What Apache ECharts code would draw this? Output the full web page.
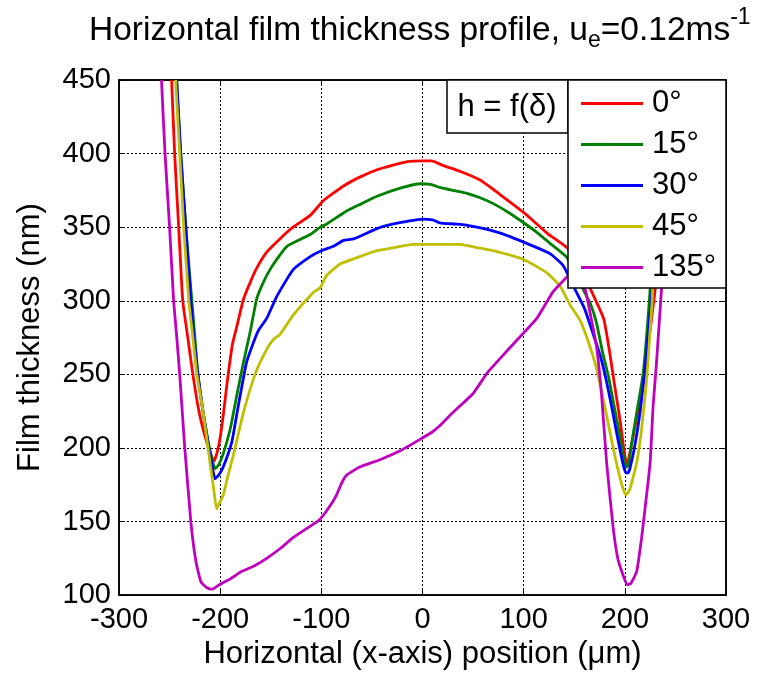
<!DOCTYPE html>
<html>
<head>
<meta charset="utf-8">
<script src="https://cdn.jsdelivr.net/npm/echarts@6/dist/echarts.min.js"></script>
<style>
  html, body { margin: 0; padding: 0; background: #fff; }
  #main { width: 772px; height: 675px; }
</style>
</head>
<body>
<div id="main"></div>
<script>
// film thickness (nm) vs horizontal position (um)
var deg0 = [[-248,450],[-245,400],[-241,350],[-237,300],[-232,275],[-227,250],[-221,225],[-215,208],[-210,197],[-206,191],
  [-203,197],[-200,207],[-197,222],[-193,245],[-188,270],[-183,284],[-177,301],[-170,313],[-164,322],[-154,333],[-141,342],
  [-128,350],[-111,358],[-98,368],[-78,378],[-62,384],[-45,389],[-30,392],[-15,394.5],[0,395],[9,395],[20,392],[37,388],
  [57,382],[77,372],[100,360],[123,346],[143,336],[155,325],[166,308],[179,288],[185,265],[190,242],[195,220],[198.5,202],
  [202,188],[206,200],[213,225],[220,250],[225,280],[230,308],[235,360],[240,420],[243,450]];
var deg15 = [[-243,450],[-239,400],[-234,350],[-228,300],[-225,275],[-222,250],[-217,225],[-212,205],[-208,192],[-205,186],
  [-202,188],[-197,196],[-190,213],[-183.5,236],[-177,258],[-170,280],[-164,301],[-157,313],[-150,322],[-141,331],[-134,337],
  [-120,342],[-111,345],[-101,350],[-95,352],[-75,361],[-60,366],[-45,371],[-22,376.5],[-2,379.5],[8,379],[17,377],[30,375],
  [44,373],[57,370],[70,366],[85,360],[100,353],[114,346],[126,339],[142,330],[152,318],[160,306],[166,298],[172,285],
  [178,265],[184,248],[189,230],[194,212],[197,200],[200,190],[202,187],[204,189],[206,200],[212,225],[218,250],[222,280],
  [225,308],[229,360],[233,410],[236,450]];
var deg30 = [[-243,450],[-239,400],[-234,350],[-229,300],[-226,275],[-222,250],[-217,225],[-212,203],[-208,188],[-205,179],
  [-201,182],[-197,187],[-188.5,204],[-182,229],[-174,258],[-168,270],[-162,280],[-154,288],[-144,303],[-128,321],[-111,330],
  [-100,334],[-88,337],[-78,341],[-68,342],[-45,349],[-30,352],[-15,354],[0,355.5],[10,355],[17,353],[35,352],[50,350.5],
  [77,346],[103,339],[126,332],[139,324],[152,306],[160,295],[166,283],[175.5,263],[181,248],[187,228],[192,210],[196,196],
  [199,187],[201,183],[203,183],[205,186],[210,202],[215,224],[220,254],[225,292],[228,315],[232,370],[236,420],[238,450]];
var deg45 = [[-244,450],[-240,400],[-236,350],[-231,300],[-227,275],[-223,250],[-217,225],[-212,200],[-209,185],[-206,170],
  [-203.5,158.5],[-201,162],[-197,168],[-192,182],[-187,195],[-177,224],[-165,251],[-154,267],[-147,274],[-141,277],
  [-128,290],[-108,305.6],[-101,309],[-95,317],[-81.5,325],[-62,330],[-45,334],[-29,336],[-9,338.3],[37,338.3],[55,336],
  [70,334],[100,328],[123,319],[136,310],[146,297],[155.5,287],[163,274],[172,254],[182,222],[190,195],[197,175],[201,168],
  [205,172],[211.7,190],[216.6,213],[221.6,247],[225,280],[227,300],[230,350],[234,400],[237,450]];
var deg135 = [[-258,450],[-254.5,400],[-250,350],[-246,300],[-243,276],[-240,250],[-235,200],[-229,150],[-224,123],
  [-219,109],[-213,105],[-208,104],[-201,107],[-190,111],[-179,116],[-166,120],[-154,125],[-140,132],[-128,139],[-115,145],
  [-102,151],[-92,160],[-85,168],[-80,176],[-75,181.5],[-62,187],[-42,192],[-22,198],[-2,206],[10,211],[17,215],[30,224],
  [50,237],[64,251],[77,261],[93,273],[113,288],[129,306],[144,317],[152,322],[160,310],[165.6,292],[172,269],[177,236],
  [182,190],[188.6,145],[193,125],[197,116],[202.4,107],[206,108],[211.7,116],[216.6,139],[221,165],[225,190],[228,229],
  [231,255],[234,285],[238,326],[242,380],[246,450]];

var seriesNames = ['0°', '15°', '30°', '45°', '135°'];
var seriesData = [deg0, deg15, deg30, deg45, deg135];
var seriesColors = ['#ff0000', '#008000', '#0000ff', '#bfbf00', '#bf00bf'];

var xTicks = [-300, 300, 100];   // min, max, step
var yTicks = [100, 450, 50];

var FONT = 'Liberation Sans, Arial, sans-serif';
var myChart = echarts.init(document.getElementById('main'));

var series = [];
for (var i = 0; i < seriesData.length; i++) {
  series.push({
    name: seriesNames[i],
    type: 'line',
    data: seriesData[i],
    showSymbol: false,
    symbol: 'none',
    smooth: 0.15,
    lineStyle: { color: seriesColors[i], width: 2.8 },
    itemStyle: { color: seriesColors[i] },
    z: 2
  });
}

var gridLine = { show: true, lineStyle: { color: '#000', type: [2, 2], width: 1 } };
var frameLine = { show: true, onZero: false, lineStyle: { color: '#000', width: 1.5 } };
var inTick = { show: true, inside: true, length: 6, lineStyle: { color: '#000' } };

var option = {
  backgroundColor: '#fff',
  animation: false,
  title: {
    text: '{a|Horizontal film thickness profile, u}{sub|e}{a|=0.12ms}{sup|-1}',
    left: 84,
    top: 6,
    textStyle: {
      rich: {
        a: { fontFamily: FONT, fontSize: 33.5, fontWeight: 'normal', color: '#000', lineHeight: 40 },
        sub: { fontFamily: FONT, fontSize: 23, fontWeight: 'normal', color: '#000', lineHeight: 40, padding: [20, 0, 0, 0] },
        sup: { fontFamily: FONT, fontSize: 23, fontWeight: 'normal', color: '#000', lineHeight: 40, padding: [0, 0, 26, 0] }
      }
    }
  },
  grid: { left: 119, right: 46, top: 80, bottom: 78, show: true, borderColor: '#000', borderWidth: 1.5 },
  legend: {
    data: seriesNames,
    orient: 'vertical',
    left: 581,
    top: 88,
    padding: 0,
    icon: 'path://M0,0H62V3H0Z',
    itemWidth: 62,
    itemHeight: 30,
    itemGap: 10,
    z: 10,
    textStyle: { fontFamily: FONT, fontSize: 31, color: '#000', lineHeight: 30, padding: [0, 0, 0, 4] }
  },
  xAxis: [{
    type: 'value', min: xTicks[0], max: xTicks[1], interval: xTicks[2],
    name: 'Horizontal (x-axis) position (μm)', nameLocation: 'middle', nameGap: 43,
    nameTextStyle: { fontFamily: FONT, fontSize: 31, color: '#000' },
    axisLine: frameLine, axisTick: inTick,
    axisLabel: { fontFamily: FONT, fontSize: 29, color: '#000', margin: 10 },
    splitLine: gridLine
  }, {
    type: 'value', position: 'top', min: xTicks[0], max: xTicks[1], interval: xTicks[2],
    axisLine: frameLine, axisTick: inTick,
    axisLabel: { show: false }, splitLine: { show: false }
  }],
  yAxis: [{
    type: 'value', min: yTicks[0], max: yTicks[1], interval: yTicks[2],
    name: 'Film thickness (nm)', nameLocation: 'middle', nameGap: 73,
    nameTextStyle: { fontFamily: FONT, fontSize: 31, color: '#000' },
    axisLine: frameLine, axisTick: inTick,
    axisLabel: { fontFamily: FONT, fontSize: 29, color: '#000', margin: 8 },
    splitLine: gridLine
  }, {
    type: 'value', position: 'right', min: yTicks[0], max: yTicks[1], interval: yTicks[2],
    axisLine: frameLine, axisTick: inTick,
    axisLabel: { show: false }, splitLine: { show: false }
  }],
  graphic: [
    { type: 'rect', z: 5, shape: { x: 447, y: 80, width: 121, height: 53 },
      style: { fill: '#fff', stroke: '#000', lineWidth: 1.5 } },
    { type: 'text', z: 6, x: 507, y: 107,
      style: { text: 'h = f(δ)', fontFamily: FONT, fontSize: 31, fill: '#000', align: 'center', verticalAlign: 'middle' } },
    { type: 'rect', z: 5, shape: { x: 568, y: 80, width: 158, height: 208 },
      style: { fill: '#fff', stroke: '#000', lineWidth: 1.5 } }
  ],
  series: series
};

myChart.setOption(option);
</script>
</body>
</html>
